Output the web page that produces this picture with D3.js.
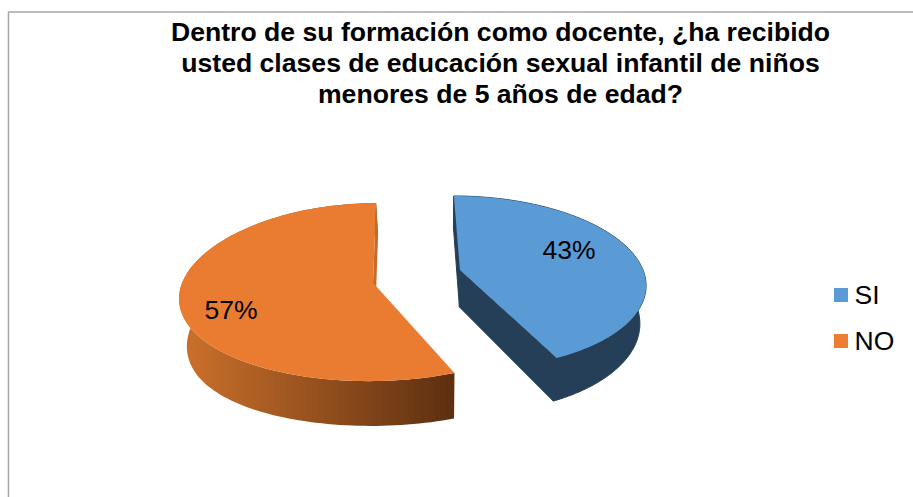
<!DOCTYPE html>
<html><head><meta charset="utf-8">
<script src="https://cdn.jsdelivr.net/npm/d3@7/dist/d3.min.js"></script>
<style>html,body{margin:0;padding:0;background:#fff;overflow:hidden}svg{display:block}text{font-family:"Liberation Sans",Arial,sans-serif;fill:#000}</style>
</head><body><svg id="c" width="913" height="497"></svg>
<script>
const categories = ["SI", "NO"];
const values = [43, 57];
const labels = ["43%", "57%"];
const titleLines = ["Dentro de su formación como docente, ¿ha recibido",
  "usted clases de educación sexual infantil de niños",
  "menores de 5 años de edad?"];

const svg = d3.select("#c");
const W = 913, H = 497;
const color = d3.scaleOrdinal().domain(categories).range(["#5B9BD5", "#E97C30"]);
const legendColor = d3.scaleOrdinal().domain(categories).range(["#5B9BD5", "#ED7D31"]);

// Perspective view of each exploded slice
const view = {
  SI: {ax:460, ay:270, A:84.6, B:183, p:.143, c:7, startTrim:0, endTrim:0, bulge:0, wallBulge:0, wall:"#243F57", startWall:"#243F57", endWall:"#243F57", edge:"#243F57", lx:569, ly:249},
  NO: {ax:373, ay:282.7, A:88, B:192.5, p:.106, c:-3.5, startTrim:1.7, endTrim:0, bulge:5, wallBulge:9, wall:"url(#wallNO)", startWall:null, endWall:"#C46A2B", edge:"none", lx:231, ly:309}
};
const depth = {vx:440, scale:.97, base:37, grow:.07, refY:270};

const defs = svg.append("defs");
const grad = defs.append("linearGradient").attr("id","wallNO").attr("gradientUnits","userSpaceOnUse")
  .attr("x1",185).attr("x2",455).attr("y1",0).attr("y2",0);
grad.append("stop").attr("offset",0).attr("stop-color","#CB702B");
grad.append("stop").attr("offset",1).attr("stop-color","#5C2F10");

// Frame (open on the right and bottom, as cropped)
const frame = d3.path();
frame.moveTo(8.5, H); frame.lineTo(8.5, 12); frame.lineTo(W, 12);
svg.append("path").attr("d", frame.toString()).attr("fill","none").attr("stroke","#A6A6A6").attr("stroke-width",1.5);

// Title
svg.append("g").selectAll("text").data(titleLines).join("text")
  .attr("x",500.5).attr("y",(d,i)=>[41,72,103][i]).attr("text-anchor","middle")
  .attr("font-weight","bold").style("font-size","26.6px").text(d=>d);

const pie = d3.pie().sort(null).value(d=>d.value);
const arcs = pie(categories.map((name,i)=>({name,value:values[i]})));
const line = d3.line();

function upper(v,t,r){ const U=r*Math.sin(t), V=-r*Math.cos(t), w=1-v.p*V;
  return [v.ax+(v.B*U+v.c*V)/w, v.ay+v.A*V/w+v.bulge*U*U, U*U]; }
function low(v,pt){ return [depth.vx+depth.scale*(pt[0]-depth.vx), pt[1]+depth.base+depth.grow*(pt[1]-depth.refY)+v.wallBulge*pt[2]]; }

arcs.forEach(a=>{
  const n=a.data.name, v=view[n];
  const t0=a.startAngle+v.startTrim*Math.PI/180, t1=a.endAngle+v.endTrim*Math.PI/180;
  const ts=d3.range(0,121).map(i=>t0+(t1-t0)*i/120);
  const rim=ts.map(t=>upper(v,t,1)), apex=upper(v,0,0);
  const face=[apex,...rim];
  const g=svg.append("g");
  // outer wall
  g.append("path").attr("d",line([...rim,...rim.map(p=>low(v,p)).reverse()])+"Z")
    .attr("fill",v.wall).attr("stroke",v.edge).attr("stroke-width",1);
  // radial walls
  [[rim[0],v.startWall],[rim[rim.length-1],v.endWall]].filter(d=>d[1]).forEach(([p,c])=>{
    g.append("path").attr("d",line([apex,p,low(v,p),low(v,apex)])+"Z").attr("fill",c).attr("stroke",v.edge).attr("stroke-width",1);
  });
  // top face
  g.append("path").attr("d",line(face)+"Z").attr("fill",color(n));
  // label
  const i=categories.indexOf(n);
  g.append("text").attr("x",v.lx).attr("y",v.ly+9.5).attr("text-anchor","middle")
    .style("font-size","26.5px").text(labels[i]);
});

// Legend
const leg=svg.append("g").selectAll("g").data(categories).join("g")
  .attr("transform",(d,i)=>`translate(834,${[288,334][i]})`);
leg.append("rect").attr("width",14).attr("height",14).attr("fill",d=>legendColor(d));
leg.append("text").attr("x",20.5).attr("y",(d,i)=>[16,15.5][i]).style("font-size","26.5px").text(d=>d);
</script></body></html>
